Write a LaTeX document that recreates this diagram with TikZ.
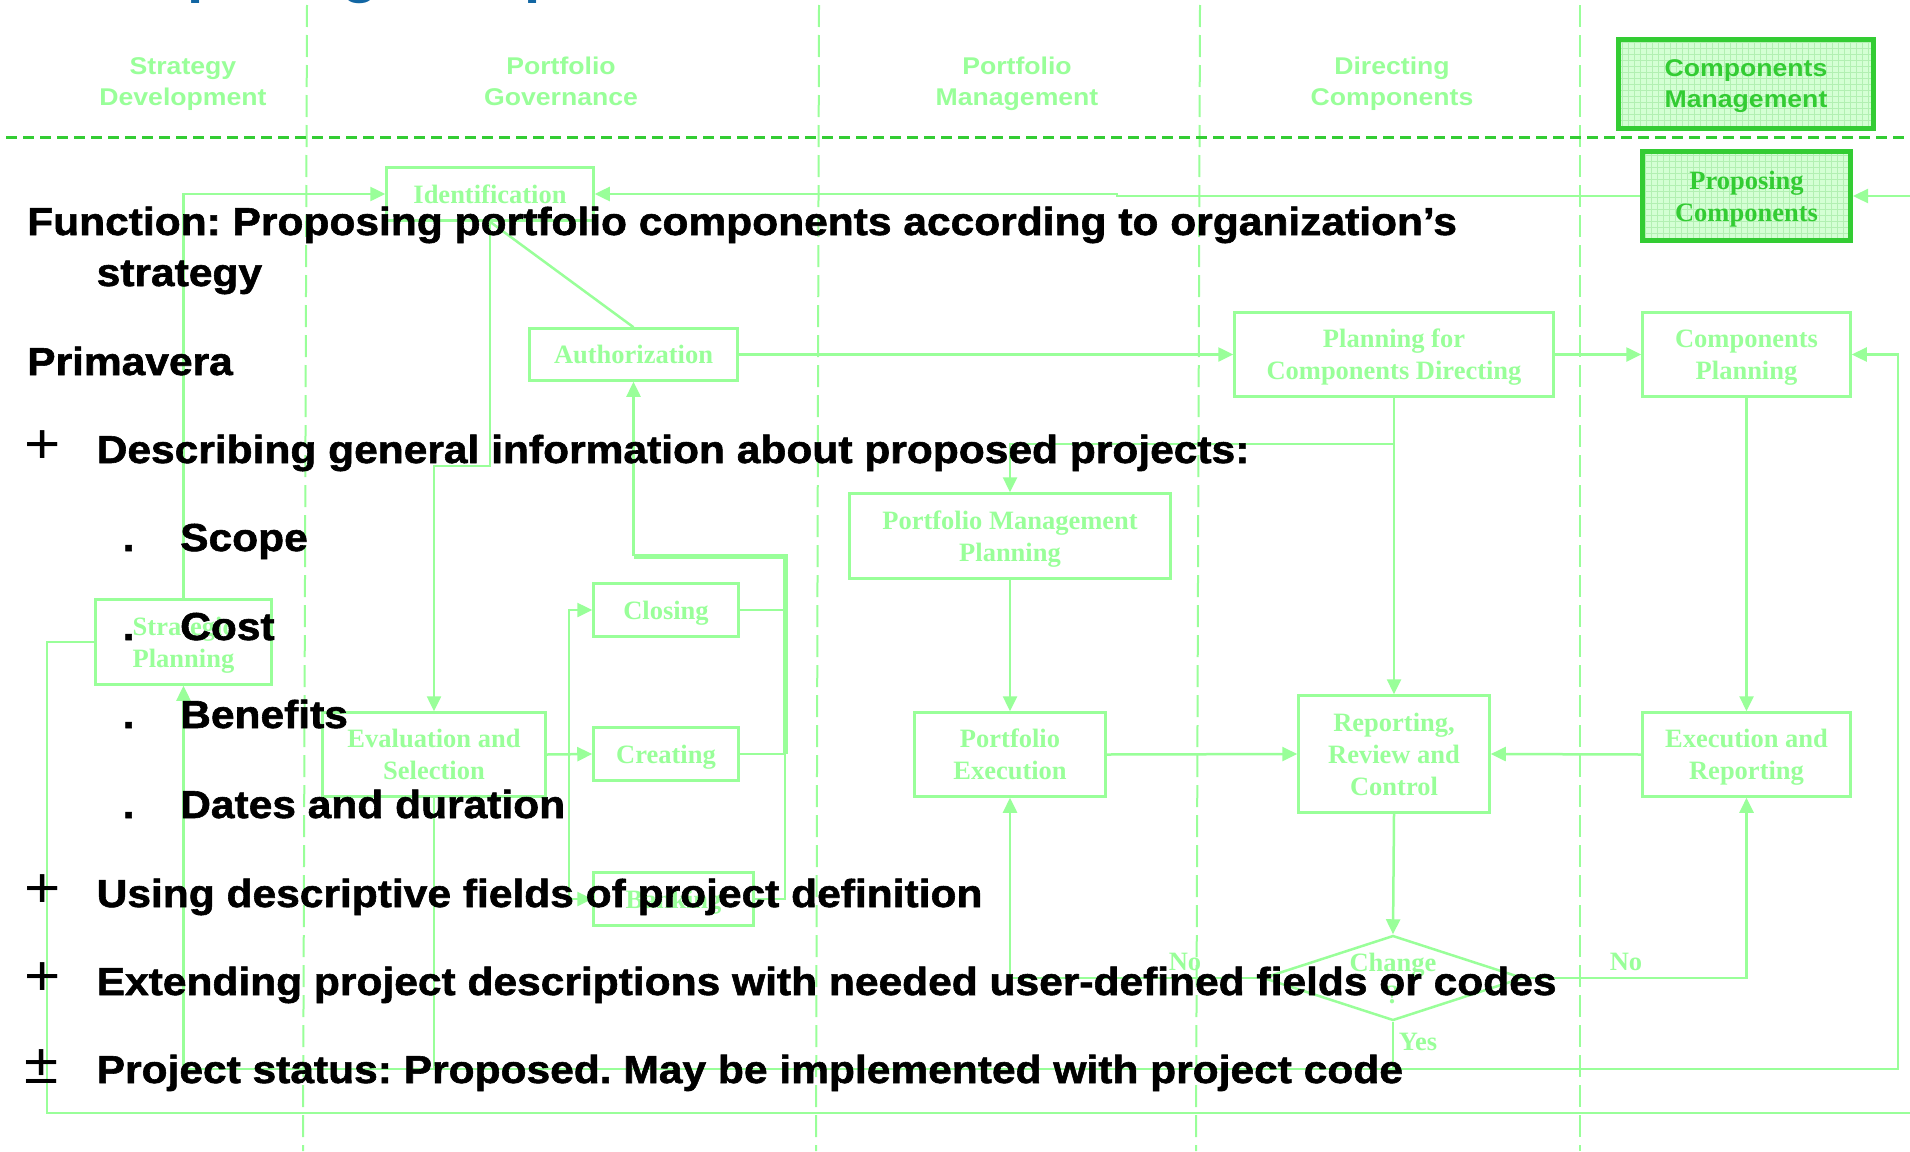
\documentclass[tikz,border=0pt]{standalone}
\usepackage{fontspec}
\usetikzlibrary{arrows.meta,shapes.geometric}
\newfontfamily\blackf{Liberation Sans}[FakeStretch=1.09,FakeBold=1.5]
\newfontfamily\plusf{Liberation Sans}[FakeStretch=1.09]
\newfontfamily\headf{Liberation Sans}[FakeStretch=1.1]
\newfontfamily\serifb{Liberation Serif}
\definecolor{lg}{RGB}{153,255,153}
\definecolor{dg}{RGB}{51,204,51}
\definecolor{hifill}{RGB}{212,255,212}
\definecolor{gridc}{RGB}{178,240,178}
\definecolor{titleblue}{RGB}{18,102,163}
\begin{document}
\frenchspacing
\begin{tikzpicture}[x=1pt,y=-1pt,
 lane/.style={draw=lg,line width=2,dash pattern=on 22pt off 8pt},
 sepline/.style={draw=dg,line width=3,dash pattern=on 11pt off 6pt},
 box/.style={draw=lg,line width=2.5,rectangle,inner sep=0,text=lg,align=center,text depth=0pt,
   font=\serifb\bfseries\fontsize{26.5}{32}\selectfont},
 hibox/.style={draw=dg,line width=5,rectangle,inner sep=0,fill=hifill,align=center,text depth=0pt,
   path picture={\draw[gridc,line width=0.6,step=6pt] (path picture bounding box.south west) grid (path picture bounding box.north east);}},
 hdr/.style={inner sep=0,text=lg,align=center,text depth=0pt,font=\headf\bfseries\fontsize{24.2}{31}\selectfont},
 lbl/.style={inner sep=0,anchor=base,text=lg,font=\serifb\bfseries\fontsize{26.5}{32}\selectfont},
 conn/.style={draw=lg,line width=2.5},
 arr/.style={conn,-{Triangle[length=15pt,width=14pt]}},
 blk/.style={inner sep=0,anchor=base west,text=black,font=\blackf\bfseries\fontsize{39}{45}\selectfont},
 plusb/.style={inner sep=0,anchor=base west,text=black,font=\plusf\fontsize{57}{57}\selectfont}]
\useasboundingbox (0,0) rectangle (1910,1151);
\fill[white] (0,0) rectangle (1910,1151);
\clip (0,0) rectangle (1910,1151);

% title fragment (only descenders visible)
\node[inner sep=0,anchor=base west,text=titleblue,font=\headf\bfseries\fontsize{53}{53}\selectfont] (title) at (90,-7.5) {Proposing Components};

% swimlanes
\draw[lane] (307,5) -- (303,1151);
\draw[lane] (819,5) -- (816,1151);
\draw[lane] (1200,5) -- (1196,1151);
\draw[lane] (1579.5,5) -- (1579.5,1151);
\draw[sepline] (6,137) -- (1910,137);

% lane headers
\node[hdr] (h1) at (183,81.5) {Strategy\\Development};
\node[hdr] (h2) at (561,81.5) {Portfolio\\Governance};
\node[hdr] (h3) at (1017,81.5) {Portfolio\\Management};
\node[hdr] (h4) at (1392,81.5) {Directing\\Components};
\node[hibox,minimum width=255,minimum height=89,text=dg,font=\headf\bfseries\fontsize{24.2}{31}\selectfont] (cmgmt) at (1746,84) {Components\\Management};

% process boxes
\node[hibox,minimum width=208,minimum height=89,text=dg,font=\serifb\bfseries\fontsize{26.5}{32}\selectfont] (propc) at (1746.5,196) {Proposing\\Components};
\node[box,minimum width=207,minimum height=53] (ident) at (490,194) {Identification};
\node[box,minimum width=208,minimum height=52] (auth) at (633.5,354.5) {Authorization};
\node[box,minimum width=319,minimum height=84] (pcd) at (1394,354.5) {Planning for\\Components Directing};
\node[box,minimum width=208,minimum height=84] (cplan) at (1746.5,354.5) {Components\\Planning};
\node[box,minimum width=321,minimum height=85] (pmp) at (1010,536) {Portfolio Management\\Planning};
\node[box,minimum width=176,minimum height=85] (strat) at (183.5,642) {Strategic\\Planning};
\node[box,minimum width=223,minimum height=84] (evals) at (434,754.5) {Evaluation and\\Selection};
\node[box,minimum width=145,minimum height=53] (closing) at (666,610) {Closing};
\node[box,minimum width=145,minimum height=53] (creating) at (666,754) {Creating};
\node[box,minimum width=160,minimum height=53] (banking) at (673.5,899) {Banking};
\node[box,minimum width=191,minimum height=84] (pexec) at (1010,754.5) {Portfolio\\Execution};
\node[box,minimum width=191,minimum height=117] (rrc) at (1394,754) {Reporting,\\Review and\\Control};
\node[box,minimum width=208,minimum height=84] (exrep) at (1746.5,754.5) {Execution and\\Reporting};
\node[box,diamond,aspect=3.06,minimum width=260,minimum height=85] (change) at (1393,978) {Change\\?};

% labels
\node[lbl] (no1) at (1185,970) {No};
\node[lbl] (no2) at (1626,970) {No};
\node[lbl] (yes) at (1418,1050) {Yes};

% helper points
\coordinate (inR) at (1910,196);
\coordinate (j1) at (1117,196);
\coordinate (k1) at (490,466);
\coordinate (k2) at (1394,444);
\coordinate (k3) at (1393,1069);
\coordinate (k4) at (1898,1069);
\coordinate (k5) at (569,754.5);
\coordinate (k6) at (785,556);
\coordinate (inB) at (1910,1113);
\coordinate (k8) at (47,1113);

% connectors
\draw[arr] (strat.north) |- (ident.west);
\draw[arr] (propc.west) -- (j1) |- (ident.east);
\draw[arr] (inR) -- (propc.east);
\draw[conn] (ident.south) -- (auth.north);
\draw[arr] (ident.south) -- (k1) -| (evals.north);
\draw[arr] (auth.east) -- (pcd.west);
\draw[arr] (pcd.east) -- (cplan.west);
\draw[arr] (pcd.south) -- (rrc.north);
\draw[arr] (k2) -| (pmp.north);
\draw[arr] (pmp.south) -- (pexec.north);
\draw[arr] (pexec.east) -- (rrc.west);
\draw[arr] (exrep.west) -- (rrc.east);
\draw[arr] (cplan.south) -- (exrep.north);
\draw[arr] (rrc.south) -- (change.north);
\draw[arr] (change.west) -| (pexec.south);
\draw[arr] (change.east) -| (exrep.south);
\draw[arr] (change.south) -- (k3) -- (k4) |- (cplan.east);
\draw[arr] (k3) -| (strat.south);
\draw[conn] (evals.south) -- (evals.south |- k3);
\draw[arr] (evals.east) -- (creating.west);
\draw[arr] (k5) |- (closing.west);
\draw[arr] (k5) |- (banking.west);
\draw[conn] (closing.east) -- (closing.east -| k6);
\draw[conn] (creating.east) -- (creating.east -| k6);
\draw[conn] (banking.east) -| (k6);
\draw[conn,line width=5] (creating.east -| k6) -- (k6) -- (auth.south |- k6);
\draw[arr] (auth.south |- k6) -- (auth.south);
\draw[conn] (inB) -- (k8) |- (strat.west);

% overlay text
\node[blk] (f1) at (27,235) {Function: Proposing portfolio components according to organization’s};
\node[blk] (f2) at (96.5,286) {strategy};
\node[blk] (f3) at (27,375) {Primavera};
\node[plusb] (p1) at (24.5,463) {+};
\node[blk] (f4) at (96.5,463) {Describing general information about proposed projects:};
\node[blk] (d1) at (122.5,551) {.};
\node[blk] (s1) at (180,551) {Scope};
\node[blk] (d2) at (122.5,640) {.};
\node[blk] (s2) at (180,640) {Cost};
\node[blk] (d3) at (122.5,728) {.};
\node[blk] (s3) at (180,728) {Benefits};
\node[blk] (d4) at (122.5,818) {.};
\node[blk] (s4) at (180,818) {Dates and duration};
\node[plusb] (p2) at (24.5,907) {+};
\node[blk] (f5) at (96.5,907) {Using descriptive fields of project definition};
\node[plusb] (p3) at (24.5,995) {+};
\node[blk] (f6) at (96.5,995) {Extending project descriptions with needed user-defined fields or codes};
\node[plusb] (p4) at (24.5,1083) {±};
\node[blk] (f7) at (96.5,1083) {Project status: Proposed. May be implemented with project code};
\end{tikzpicture}
\end{document}
